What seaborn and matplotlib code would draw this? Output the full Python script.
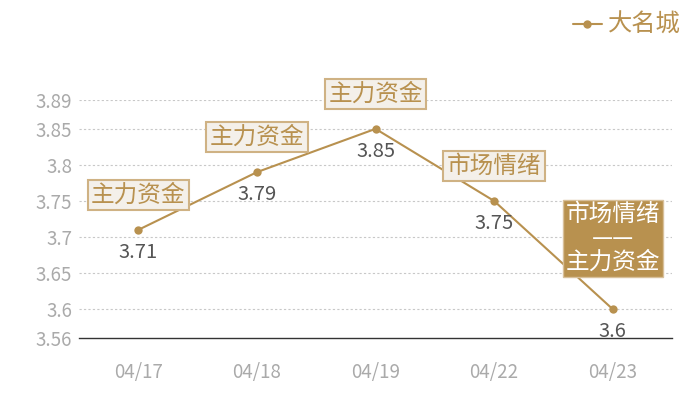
import matplotlib
matplotlib.use('Agg')
import matplotlib.pyplot as plt
import pandas as pd
import seaborn as sns

# chart data
dates = ['04/17', '04/18', '04/19', '04/22', '04/23']
values = [3.71, 3.79, 3.85, 3.75, 3.6]
tags = ['主力资金', '主力资金', '主力资金', '市场情绪', '市场情绪\n——\n主力资金']
y_ticks = [3.56, 3.6, 3.65, 3.7, 3.75, 3.8, 3.85, 3.89]
series_name = '大名城'

gold = '#b8914f'
df = pd.DataFrame({'date': dates, 'value': values})

sns.set_style('white')
plt.rcParams['font.family'] = ['Noto Sans CJK SC', 'DejaVu Sans']

fig = plt.figure(figsize=(7, 4), dpi=100)
ax = fig.add_axes([0.113, 0.155, 0.847, 0.595])

sns.lineplot(data=df, x='date', y='value', ax=ax, color=gold, linewidth=1.5,
             marker='o', markersize=6, markeredgewidth=0, label=series_name)

ax.set_xlim(-0.5, len(dates) - 0.5)
ax.set_ylim(y_ticks[0], y_ticks[-1])
ax.set_yticks(y_ticks)
ax.set_yticklabels([f'{t:g}' for t in y_ticks])
ax.set_xlabel('')
ax.set_ylabel('')

# dotted grid except the baseline
for t in y_ticks[1:]:
    ax.axhline(t, color='#c8c8c8', linestyle=(0, (2, 2)), linewidth=0.8, zorder=0)

for s in ['top', 'right', 'left']:
    ax.spines[s].set_visible(False)
ax.spines['bottom'].set_color('#333333')
ax.spines['bottom'].set_linewidth(1)
ax.tick_params(axis='both', length=0, colors='#aaaaaa', labelsize=13.5)
ax.tick_params(axis='x', pad=17)
ax.tick_params(axis='y', pad=5)

# value labels under points
for i, v in enumerate(values):
    ax.annotate(f'{v:g}', (i, v), xytext=(0, -16), textcoords='offset points',
                ha='center', va='center', fontsize=14.5, color='#555555')

# tag boxes above points
for i, (v, tag) in enumerate(zip(values, tags)):
    if '\n' in tag:
        ax.annotate(tag, (i, v), xytext=(0, 51), textcoords='offset points',
                    ha='center', va='center', fontsize=17, color='white',
                    linespacing=1.05,
                    bbox=dict(boxstyle='square,pad=0.12', facecolor=gold,
                              edgecolor='#d8c09a', linewidth=1))
    else:
        ax.annotate(tag, (i, v), xytext=(0, 25), textcoords='offset points',
                    ha='center', va='center', fontsize=17, color=gold,
                    bbox=dict(boxstyle='square,pad=0.15', facecolor='#f4f0ea',
                              edgecolor='#cfb284', linewidth=1.5))

leg = ax.legend(loc='upper right', bbox_to_anchor=(0.99, 1.0), bbox_transform=fig.transFigure,
                frameon=False, fontsize=17.5, handlelength=1.2, handletextpad=0.25,
                borderaxespad=0.1)
for txt in leg.get_texts():
    txt.set_color(gold)

fig.savefig('out.png', dpi=100)
